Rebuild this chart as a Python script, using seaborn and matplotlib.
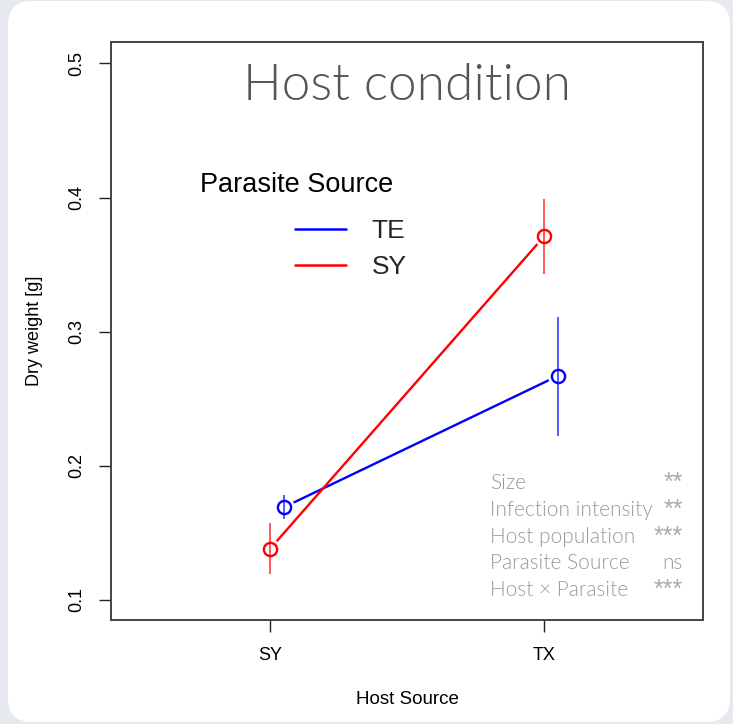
import matplotlib
matplotlib.use("Agg")
import matplotlib.pyplot as plt
from matplotlib.lines import Line2D
from matplotlib.patches import FancyBboxPatch
import seaborn as sns
import pandas as pd

# ---- data ----
host_sources = ["SY", "TX"]
parasite_sources = ["TE", "SY"]
te_means = [0.169, 0.267]
te_lower = [0.160, 0.222]
te_upper = [0.178, 0.311]
sy_means = [0.138, 0.371]
sy_lower = [0.119, 0.343]
sy_upper = [0.157, 0.399]
terms = ["Size", "Infection intensity", "Host population", "Parasite Source", "Host × Parasite"]
signif = ["**", "**", "***", "ns", "***"]
y_ticks = [0.1, 0.2, 0.3, 0.4, 0.5]

colors = {"TE": "blue", "SY": "red"}
dodge = {"TE": 0.05, "SY": 0.0}

rows = []
for par, m, lo, hi in [("TE", te_means, te_lower, te_upper),
                       ("SY", sy_means, sy_lower, sy_upper)]:
    for i, h in enumerate(host_sources):
        rows.append({"host": h, "parasite": par, "pos": i + 1 + dodge[par],
                     "weight": m[i], "lo": lo[i], "hi": hi[i]})
df = pd.DataFrame(rows)

sns.set_style("ticks")
plt.rcParams["font.family"] = ["Liberation Sans", "DejaVu Sans"]

fig = plt.figure(figsize=(7.33, 7.24), dpi=100)
fig.patch.set_facecolor("#e6e9ee")
panel = FancyBboxPatch((8, 2), 722, 721, boxstyle="round,pad=0,rounding_size=24",
                       transform=None, facecolor="white", edgecolor="none", zorder=0)
fig.add_artist(panel)

ax = fig.add_axes([111 / 733, 104 / 724, 592 / 733, 578 / 724])
ax.set_facecolor("white")

# lines
sns.lineplot(data=df, x="pos", y="weight", hue="parasite", hue_order=parasite_sources,
             palette=colors, linewidth=1.7, legend=False, estimator=None, sort=True,
             ax=ax, zorder=2)
# white gaps around points (R type="b")
ax.plot(df["pos"], df["weight"], linestyle="none", marker="o", markersize=15,
        markerfacecolor="white", markeredgecolor="none", zorder=3)
# error bars + open circles
for par in parasite_sources:
    sub = df[df["parasite"] == par]
    ax.errorbar(sub["pos"], sub["weight"],
                yerr=[sub["weight"] - sub["lo"], sub["hi"] - sub["weight"]],
                fmt="none", ecolor=colors[par], elinewidth=1.4, alpha=0.65,
                capsize=0, zorder=4)
    ax.plot(sub["pos"], sub["weight"], linestyle="none", marker="o", markersize=9.5,
            markerfacecolor="none", markeredgecolor=colors[par], markeredgewidth=1.7,
            zorder=5)

ax.set_xlim(0.42, 2.58)
ax.set_ylim(0.085, 0.516)
ax.set_xticks([1, 2])
ax.set_xticklabels(host_sources)
ax.set_yticks(y_ticks)
ax.set_yticklabels([f"{t:.1f}" for t in y_ticks], rotation=90, va="center")
ax.tick_params(axis="both", direction="out", length=8.5, width=1.0, color="#222222",
               labelsize=13, labelcolor="black")
ax.tick_params(axis="y", pad=10)
ax.tick_params(axis="x", pad=11)
for s in ax.spines.values():
    s.set_visible(True)
    s.set_color("#444444")
    s.set_linewidth(1.4)

ax.set_xlabel("Host Source", fontsize=13.5, color="black")
ax.set_ylabel("Dry weight [g]", fontsize=13, color="black")
ax.xaxis.set_label_coords(0.5, (620 - 699) / 578)
ax.xaxis.label.set_va("center")
ax.yaxis.set_label_coords((35 - 111) / 592, 0.5)
ax.yaxis.label.set_va("center")

# title inside the plot
ax.text(0.5, (620 - 100) / 578, "Host condition", transform=ax.transAxes,
        ha="center", va="baseline", fontsize=37, color="#555555",
        family=["Lato", "DejaVu Sans"], fontweight=300)

# legend
ax.text((297 - 111) / 592, (620 - 185) / 578, "Parasite Source", transform=ax.transAxes,
        ha="center", va="center", fontsize=19.5, color="black")
handles = [Line2D([0], [0], color=colors[p], lw=1.8) for p in parasite_sources]
ax.legend(handles, parasite_sources, loc="upper left",
          bbox_to_anchor=((295 - 111) / 592, (620 - 219) / 578),
          frameon=False, fontsize=19, handlelength=1.93, handletextpad=0.98,
          labelspacing=0.47, borderpad=0, borderaxespad=0)

# significance annotations
row_y = [483, 510, 537, 563, 590]
for term, sig, yy in zip(terms, signif, row_y):
    ya = (620 - yy) / 578
    ax.text((490 - 111) / 592, ya, term, transform=ax.transAxes, ha="left", va="center",
            fontsize=15, color="#999999", family=["Lato", "DejaVu Sans"], fontweight=300)
    if sig.startswith("*"):
        ax.text((683 - 111) / 592, ya, sig, transform=ax.transAxes,
                ha="right", va="center", fontsize=18, color="#aaaaaa",
                family=["Liberation Sans", "DejaVu Sans"])
    else:
        ax.text((683 - 111) / 592, ya, sig, transform=ax.transAxes,
                ha="right", va="center", fontsize=15, color="#999999",
                family=["Lato", "DejaVu Sans"], fontweight=300)

fig.savefig("out.png", dpi=100, facecolor=fig.get_facecolor())
